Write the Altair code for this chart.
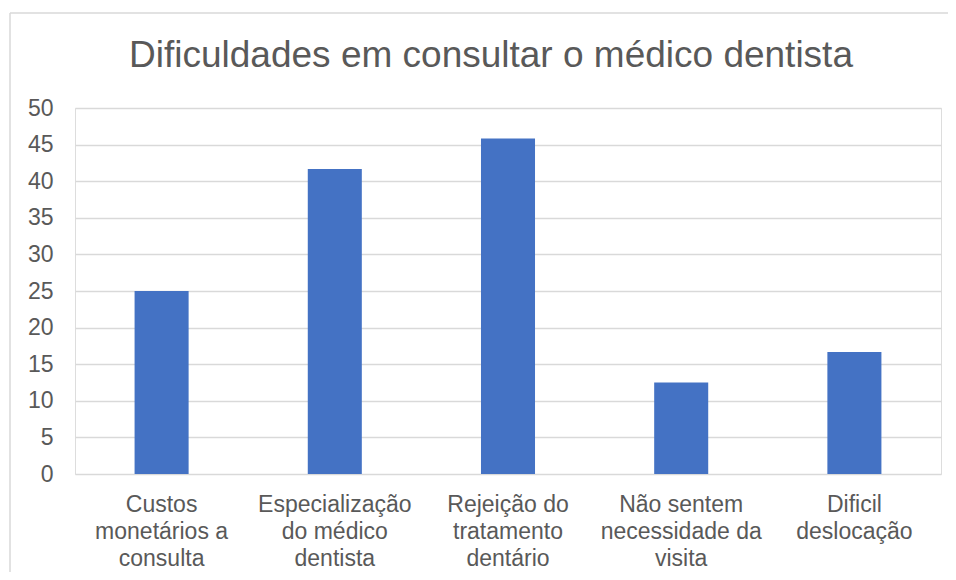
import altair as alt
import pandas as pd

categories = [
    "Custos\nmonetários a\nconsulta",
    "Especialização\ndo médico\ndentista",
    "Rejeição do\ntratamento\ndentário",
    "Não sentem\nnecessidade da\nvisita",
    "Dificil\ndeslocação",
]
values = [25.0, 41.67, 45.83, 12.5, 16.67]
y_ticks = [0, 5, 10, 15, 20, 25, 30, 35, 40, 45, 50]
title_text = "Dificuldades em consultar o médico dentista"

df = pd.DataFrame({"cat": categories, "val": values})

FONT = "Liberation Sans"
TXT = "#595959"
GRID = "#d9d9d9"

bars = alt.Chart(df).mark_bar(color="#4472c4").encode(
    x=alt.X(
        "cat:N",
        sort=categories,
        title=None,
        scale=alt.Scale(paddingInner=0.688, paddingOuter=0.344),
        axis=alt.Axis(
            labelAngle=0,
            labelExpr="split(datum.label, '\\n')",
            labelFontSize=23,
            labelColor=TXT,
            labelFont=FONT,
            labelLineHeight=27,
            labelBaseline="top",
            labelPadding=19,
            labelLimit=300,
            ticks=False,
            domain=False,
            grid=False,
        ),
    ),
    y=alt.Y(
        "val:Q",
        title=None,
        scale=alt.Scale(domain=[0, 50], nice=False),
        axis=alt.Axis(
            values=y_ticks,
            labelFontSize=23,
            labelColor=TXT,
            labelFont=FONT,
            labelPadding=22,
            ticks=False,
            domain=False,
            grid=True,
            gridColor=GRID,
            gridWidth=1.5,
        ),
    ),
)

border_df = pd.DataFrame({"k": [0]})
left_border = alt.Chart(border_df).mark_rule(color=GRID, strokeWidth=1.5, clip=False).encode(
    x=alt.value(-65), y=alt.value(-95), y2=alt.value(700)
)
top_border = alt.Chart(border_df).mark_rule(color=GRID, strokeWidth=1.5, clip=False).encode(
    x=alt.value(-65), x2=alt.value(873), y=alt.value(-95)
)

chart = (
    alt.layer(left_border, top_border, bars)
    .properties(
        width=866,
        height=366,
        autosize=alt.AutoSizeParams(type="none"),
        padding={"left": 67, "top": 100, "right": 7, "bottom": 98},
        title=alt.TitleParams(
            text=title_text,
            fontSize=37,
            font=FONT,
            color=TXT,
            fontWeight="normal",
            anchor="middle",
            frame="group",
            dx=-17,
            baseline="alphabetic",
            offset=-92,
        ),
    )
    .configure_view(stroke="transparent", strokeWidth=0)
    .configure(background="white")
)

chart.save("out.html", embed_options={"renderer": "svg", "actions": False})
